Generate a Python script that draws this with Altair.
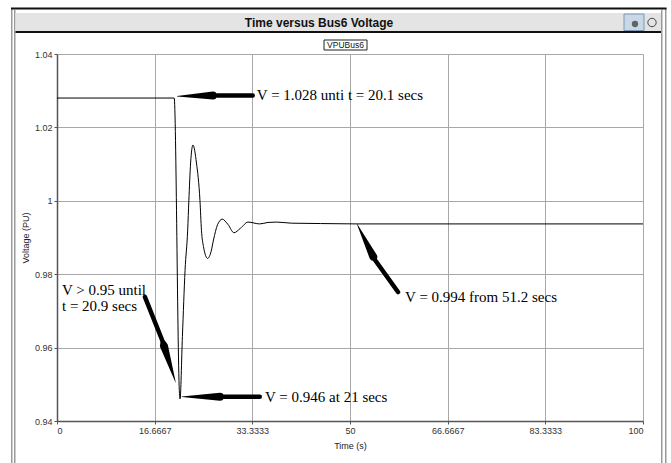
import altair as alt
import pandas as pd

# ---- series ----
TIME = [0, 20.0, 20.9, 21.0, 21.4, 21.85, 22.3, 22.5, 22.8, 23.2, 23.8, 24.4, 24.65, 25.0,
        25.7, 26.3, 26.7, 27.4, 28.2, 29.2, 30.2, 31.3, 32.6, 34.6, 36.0, 37.5, 40.0, 45.0,
        51.2, 100]
VOLT = [1.028, 1.028, 0.9475, 0.946, 0.963, 0.981, 0.992, 1.0, 1.0103, 1.0152, 1.0103, 1.0,
        0.992, 0.9875, 0.9843, 0.9862, 0.9893, 0.9935, 0.995, 0.9935, 0.9913, 0.9925, 0.9942,
        0.9937, 0.9941, 0.9942, 0.9939, 0.9938, 0.9937, 0.9937]
SERIES_NAME = "VPUBus6"
CHART_TITLE = "Time versus Bus6 Voltage"
X_TITLE = "Time (s)"
Y_TITLE = "Voltage (PU)"
X_TICKS = [0, 100 / 6, 200 / 6, 50, 400 / 6, 500 / 6, 100]
Y_TICKS = [0.94, 0.96, 0.98, 1.0, 1.02, 1.04]

# ---- annotations ----
NOTE_TEXT = ["V = 1.028 unti t = 20.1 secs", "V > 0.95 until", "t = 20.9 secs",
             "V = 0.946 at 21 secs", "V = 0.994 from 51.2 secs"]
NOTE_T = [34.1, 0.85, 0.85, 35.5, 59.4]
NOTE_V = [1.0288, 0.9757, 0.9713, 0.9466, 0.9738]

ARROW_ID = ["a1"] * 4 + ["a2"] * 4 + ["a3"] * 4 + ["a4"] * 4
ARROW_PART = ["tip", "base", "neck", "tail"] * 4
ARROW_SEQ = [0, 1, 2, 3] * 4
ARROW_T = [20.5, 26.6, 27.1, 33.4,
           21.3, 27.8, 28.3, 34.6,
           20.22, 18.26, 18.0, 15.0,
           51.2, 53.97, 54.27, 58.19]
ARROW_V = [1.0285, 1.0287, 1.0287, 1.0287,
           0.9466, 0.9466, 0.9466, 0.9466,
           0.95063, 0.96044, 0.9618, 0.9738,
           0.99368, 0.98477, 0.98387, 0.97515]

line_df = pd.DataFrame({"t": TIME, "v": VOLT, "series": SERIES_NAME})
note_df = pd.DataFrame({"t": NOTE_T, "v": NOTE_V, "label": NOTE_TEXT})
arrow_df = pd.DataFrame({"arrow": ARROW_ID, "part": ARROW_PART, "seq": ARROW_SEQ,
                         "t": ARROW_T, "v": ARROW_V})
one = pd.DataFrame({"k": [0]})

xscale = alt.Scale(domain=[0, 100], nice=False, zero=False)
yscale = alt.Scale(domain=[0.94, 1.04], nice=False, zero=False)

xenc = alt.X("t:Q", scale=xscale, title=X_TITLE,
             axis=alt.Axis(values=X_TICKS, format=".6~g", titlePadding=6))
yenc = alt.Y("v:Q", scale=yscale, title=Y_TITLE,
             axis=alt.Axis(values=Y_TICKS, format="~g", titlePadding=4))

line = alt.Chart(line_df).mark_line(color="black", strokeWidth=1, interpolate="monotone").encode(
    x=xenc, y=yenc)

arrows = alt.Chart(arrow_df).mark_trail(color="black").encode(
    x=alt.X("t:Q", scale=xscale),
    y=alt.Y("v:Q", scale=yscale),
    detail="arrow:N",
    order=alt.Order("seq:Q"),
    size=alt.Size("part:N", scale=alt.Scale(type="ordinal", domain=["tip", "base", "neck", "tail"],
                                            range=[0.4, 8.0, 4.5, 4.5]), legend=None),
)

notes = alt.Chart(note_df).mark_text(align="left", baseline="middle", font="Liberation Serif",
                                     fontSize=15, color="black").encode(
    x=alt.X("t:Q", scale=xscale), y=alt.Y("v:Q", scale=yscale), text="label:N")


def box(x, x2, y, y2, **kw):
    return alt.Chart(one).mark_rect(**kw).encode(
        x=alt.value(x), x2=alt.value(x2), y=alt.value(y), y2=alt.value(y2))


# window frame (positions relative to the plot origin)
frame = [
    box(-46, -44.5, -46, 409, color="#9a9a9a"),
    box(-43, -41.5, -44, 409, color="#9a9a9a"),
    box(604, 605.5, -44, 409, color="#9a9a9a"),
    box(608, 609.5, -46, 409, color="#9a9a9a"),
    box(-46, 609.5, -46.5, -44.5, color="#111111"),
    box(-41.5, 604, -41, -22.5, color="#e4e4e4"),
    box(-41.5, 604, -23, -21, color="#111111"),
    box(567, 587, -40, -23.5, color="#c9d7e6", stroke="#7f98b3", strokeWidth=1),
    box(267, 310, -14, -4, color="white", stroke="#222222", strokeWidth=1),
]

icon = alt.Chart(one).mark_point(shape="circle", filled=False, color="black", size=70,
                                 strokeWidth=1).encode(x=alt.value(595), y=alt.value(-31.5))
icon2 = alt.Chart(one).mark_point(shape="circle", filled=True, color="#333333", size=40).encode(
    x=alt.value(578), y=alt.value(-30))

title = alt.Chart(one).mark_text(font="Liberation Sans", fontSize=12, fontWeight="bold",
                                 color="#111111", align="center", baseline="middle").encode(
    x=alt.value(262), y=alt.value(-31.5), text=alt.value(CHART_TITLE))
legend = alt.Chart(one).mark_text(font="Liberation Sans", fontSize=8.5, color="#111111",
                                  align="center", baseline="middle").encode(
    x=alt.value(288.5), y=alt.value(-8.8), text=alt.value(SERIES_NAME))

chart = alt.layer(*frame, icon, icon2, title, legend, line, arrows, notes).properties(
    width=586, height=367,
    padding={"left": 57, "top": 54, "right": 28, "bottom": 42},
    autosize=alt.AutoSizeParams(type="none"),
    background="white",
).configure_view(stroke=None).configure_axis(
    domainColor="#555555", domainWidth=1.5, gridColor="#a8a8a8", gridWidth=1,
    tickColor="#555555", tickSize=3, labelFont="Liberation Sans", labelFontSize=9,
    labelColor="#333333", titleFont="Liberation Sans", titleFontSize=9,
    titleFontWeight="normal", titleColor="#222222", labelPadding=2,
)

chart.save("out.html", embed_options={"renderer": "svg", "actions": False})
